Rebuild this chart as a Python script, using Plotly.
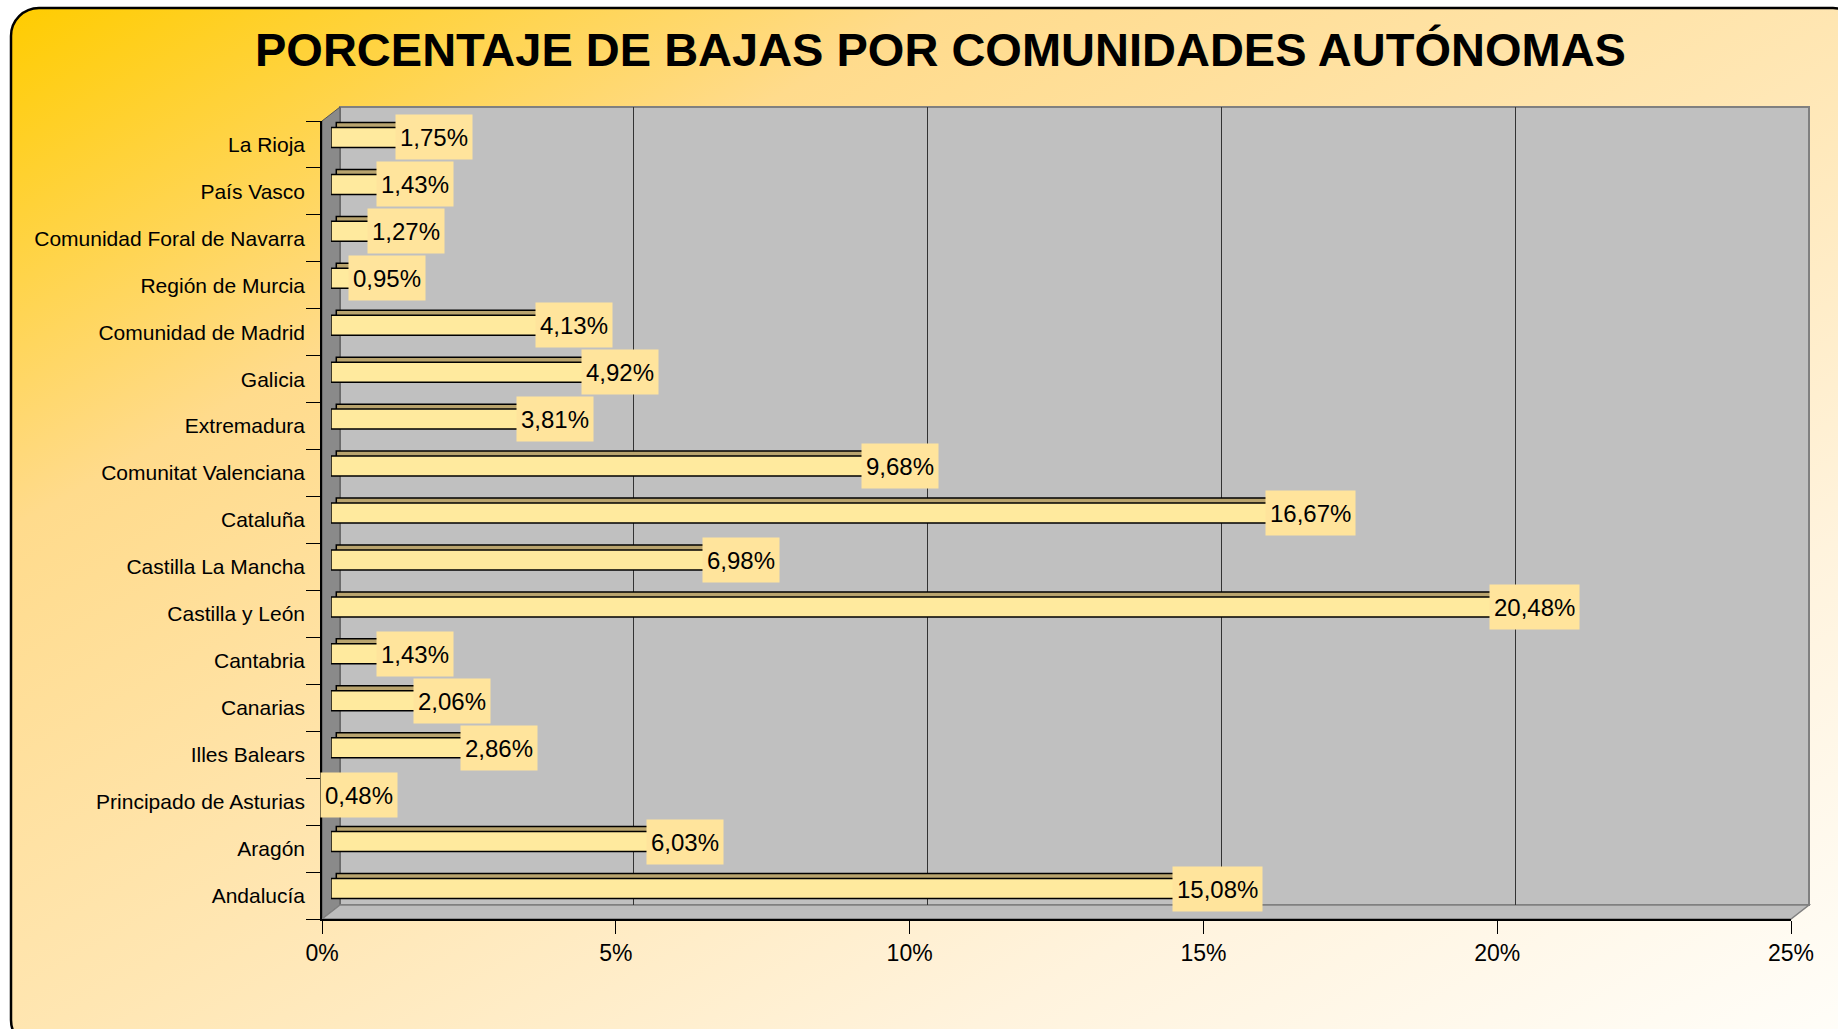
import base64
import plotly.graph_objects as go

# ---------------- data ----------------
categories = [
    "Andalucía", "Aragón", "Principado de Asturias", "Illes Balears", "Canarias",
    "Cantabria", "Castilla y León", "Castilla La Mancha", "Cataluña",
    "Comunitat Valenciana", "Extremadura", "Galicia", "Comunidad de Madrid",
    "Región de Murcia", "Comunidad Foral de Navarra", "País Vasco", "La Rioja",
]
values = [15.08, 6.03, 0.48, 2.86, 2.06, 1.43, 20.48, 6.98, 16.67,
          9.68, 3.81, 4.92, 4.13, 0.95, 1.27, 1.43, 1.75]
x_tickvals = [0, 5, 10, 15, 20, 25]
x_ticktext = ["0%", "5%", "10%", "15%", "20%", "25%"]
title_text = "PORCENTAJE DE BAJAS POR COMUNIDADES AUTÓNOMAS"

# ---------------- geometry (pixels) ----------------
W, H = 1838, 1029
FX0, FX1 = 322, 1791      # front plane x (0% .. 25%)
FYT, FYB = 121, 919       # front plane y (top .. bottom)
DX, DY = 18, -14          # depth offset of back wall


def fx(p):
    return p / W


def fy(p):
    return 1 - p / H


FONT = "Arial, 'Liberation Sans', sans-serif"
labels = [f"{v:.2f}".replace(".", ",") + "%" for v in values]
ncat = len(categories)
yrange = [-0.5, ncat - 0.5]

# background gradient + rounded frame
svg = f'''<svg xmlns="http://www.w3.org/2000/svg" width="{W}" height="{H}" viewBox="0 0 {W} {H}" preserveAspectRatio="none">
<defs><linearGradient id="g" x1="0" y1="0" x2="1" y2="1">
<stop offset="0" stop-color="#FFCC00"/>
<stop offset="0.25" stop-color="#FFDB8C"/>
<stop offset="0.5" stop-color="#FFE6B2"/>
<stop offset="0.75" stop-color="#FFF3DD"/>
<stop offset="1" stop-color="#FFFEFA"/>
</linearGradient></defs>
<rect x="0" y="0" width="{W}" height="{H}" fill="#ffffff"/>
<rect x="11" y="8" width="1850" height="1040" rx="28" ry="28" fill="url(#g)" stroke="#000000" stroke-width="2.5"/>
</svg>'''
bg_src = "data:image/svg+xml;base64," + base64.b64encode(svg.encode("utf-8")).decode("ascii")

fig = go.Figure()

# back subplot (grid only)
fig.add_trace(go.Scatter(x=values, y=categories, mode="markers", marker=dict(opacity=0),
                         hoverinfo="skip", xaxis="x", yaxis="y", showlegend=False))
# front subplot (axes)
fig.add_trace(go.Scatter(x=values, y=categories, mode="markers", marker=dict(opacity=0),
                         hoverinfo="skip", xaxis="x2", yaxis="y2", showlegend=False))

# mid plane: bars (depth face + front face)
bw = 0.426
fig.add_trace(go.Bar(x=values, y=categories, orientation="h", base=0.09,
                     width=bw, offset=-bw / 2 + 0.106,
                     marker=dict(color="#B9A46E", line=dict(color="#000000", width=1.5)),
                     xaxis="x3", yaxis="y3", hoverinfo="skip", showlegend=False))
fig.add_trace(go.Bar(x=values, y=categories, orientation="h",
                     width=bw, offset=-bw / 2,
                     marker=dict(color="#FFEA9E", line=dict(color="#000000", width=1.5)),
                     xaxis="x3", yaxis="y3", hoverinfo="skip", showlegend=False))

annotations = []
for c, v, t in zip(categories, values, labels):
    annotations.append(dict(x=v, y=c, xref="x3", yref="y3", text=t, showarrow=False,
                            font=dict(family=FONT, size=24, color="#000000"),
                            bgcolor="#FFE49C", borderpad=4, height=36,
                            xanchor="center", yanchor="middle"))
annotations.append(dict(x=fx(941), y=fy(49), xref="paper", yref="paper",
                        text=f"<b>{title_text}</b>", showarrow=False,
                        font=dict(family=FONT, size=47, color="#000000"),
                        xanchor="center", yanchor="middle"))

shapes = [
    # back wall
    dict(type="rect", xref="paper", yref="paper", layer="below",
         x0=fx(FX0 + DX), x1=fx(FX1 + DX), y0=fy(FYB + DY), y1=fy(FYT + DY),
         fillcolor="#C0C0C0", line=dict(color="#808080", width=2)),
    # left wall
    dict(type="path", xref="paper", yref="paper", layer="below",
         path=f"M {fx(FX0)},{fy(FYT)} L {fx(FX0 + DX)},{fy(FYT + DY)} L {fx(FX0 + DX)},{fy(FYB + DY)} L {fx(FX0)},{fy(FYB)} Z",
         fillcolor="#8A8A8A", line=dict(color="#555555", width=1)),
    # floor
    dict(type="path", xref="paper", yref="paper", layer="below",
         path=f"M {fx(FX0)},{fy(FYB)} L {fx(FX0 + DX)},{fy(FYB + DY)} L {fx(FX1 + DX)},{fy(FYB + DY)} L {fx(FX1)},{fy(FYB)} Z",
         fillcolor="#BDBDBD", line=dict(color="#808080", width=1.5)),
]

fig.update_layout(
    template="none",
    width=W, height=H, autosize=False, margin=dict(l=0, r=0, t=0, b=0, pad=0),
    paper_bgcolor="#FFFFFF", plot_bgcolor="rgba(0,0,0,0)",
    barmode="overlay", showlegend=False,
    font=dict(family=FONT, color="#000000"),
    images=[dict(source=bg_src, xref="paper", yref="paper", x=0, y=1, sizex=1, sizey=1,
                 sizing="stretch", xanchor="left", yanchor="top", layer="below")],
    shapes=shapes, annotations=annotations,
    # back plane
    xaxis=dict(domain=[fx(FX0 + DX), fx(FX1 + DX)], range=[0, 25], anchor="y", automargin=False,
               tickvals=x_tickvals[1:-1], showgrid=True, gridcolor="#333333", gridwidth=1,
               showticklabels=False, ticks="", zeroline=False, showline=False),
    yaxis=dict(domain=[fy(FYB + DY), fy(FYT + DY)], type="category", categoryarray=categories,
               range=yrange, anchor="x", visible=False, automargin=False),
    # front plane (axes)
    xaxis2=dict(domain=[fx(FX0), fx(FX1)], range=[0, 25], anchor="y2", automargin=False,
                tickvals=x_tickvals, ticktext=x_ticktext, ticks="outside", ticklen=13,
                tickcolor="#000000", tickwidth=1.2,
                showline=True, linecolor="#000000", linewidth=1.5,
                showgrid=False, zeroline=False,
                tickfont=dict(family=FONT, size=23, color="#000000")),
    yaxis2=dict(domain=[fy(FYB), fy(FYT)], type="category", categoryarray=categories,
                range=yrange, anchor="x2", tickson="boundaries", ticks="outside", ticklen=14,
                tickcolor="#000000", tickwidth=1.2, ticklabelstandoff=11, automargin=False,
                showline=True, linecolor="#000000", linewidth=1.5,
                showgrid=False, zeroline=False,
                tickfont=dict(family=FONT, size=21, color="#000000")),
    # mid plane (bars)
    xaxis3=dict(domain=[fx(FX0 + DX / 2), fx(FX1 + DX / 2)], range=[0, 25], anchor="y3",
                visible=False, showgrid=False, zeroline=False, automargin=False),
    yaxis3=dict(domain=[fy(FYB + DY / 2), fy(FYT + DY / 2)], type="category",
                categoryarray=categories, range=yrange, anchor="x3", visible=False,
                automargin=False),
)

fig.write_html("out.html", config={"responsive": False, "displayModeBar": False},
               post_script="document.body.style.margin='0';")
